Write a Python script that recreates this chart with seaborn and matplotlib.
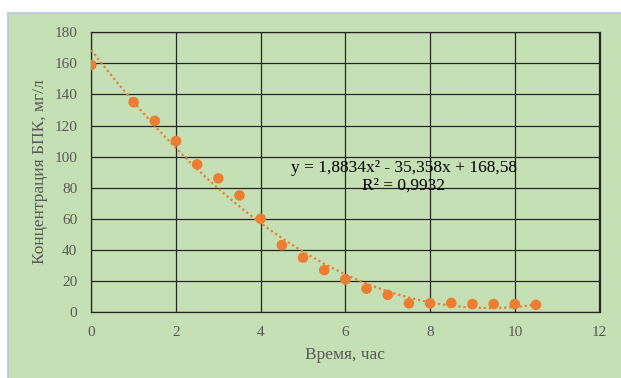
import numpy as np
import pandas as pd
import matplotlib
matplotlib.use("Agg")
import matplotlib.pyplot as plt
from matplotlib.patches import Rectangle
from matplotlib.lines import Line2D
import seaborn as sns

# Data
time_h = [0, 1, 1.5, 2, 2.5, 3, 3.5, 4, 4.5, 5, 5.5, 6, 6.5, 7, 7.5, 8, 8.5, 9, 9.5, 10, 10.5]
bpk = [159, 135, 123, 110, 95, 86, 75, 60, 43, 35, 27, 21, 15, 11, 5.6, 5.6, 5.8, 5.1, 5.1, 5.1, 4.6]
x_ticks = [0, 2, 4, 6, 8, 10, 12]
y_ticks = [0, 20, 40, 60, 80, 100, 120, 140, 160, 180]
eq_text = "y = 1,8834x² - 35,358x + 168,58"
r2_text = "R² = 0,9932"
x_label = "Время, час"
y_label = "Концентрация БПК, мг/л"

df = pd.DataFrame({"t": time_h, "c": bpk})

GREEN = "#C5E0B4"
ORANGE = "#ED7D31"
GRID = "#262626"
TXT = "#595959"

sns.set_theme(style="white")
plt.rcParams["font.family"] = ["Liberation Serif", "DejaVu Serif"]

W, H = 621, 378
fig = plt.figure(figsize=(W / 100, H / 100), dpi=100, facecolor="white")

# Green panel with light-blue edge on top/left
px0, py_top = 8, 13
fig.patches.append(Rectangle((px0 / W, 0), 1 - px0 / W, (H - py_top) / H,
                             transform=fig.transFigure, facecolor=GREEN,
                             edgecolor="none", zorder=-10))
fig.lines.append(Line2D([px0 / W, 1], [(H - py_top) / H] * 2, transform=fig.transFigure,
                        color="#B4C7E7", lw=1.2, zorder=-5))
fig.lines.append(Line2D([px0 / W] * 2, [0, (H - py_top) / H], transform=fig.transFigure,
                        color="#B4C7E7", lw=1.2, zorder=-5))

left, right = 91.3 / W, 599.5 / W
bottom, top = 1 - 312 / H, 1 - 32.3 / H
ax = fig.add_axes([left, bottom, right - left, top - bottom])
ax.set_facecolor("none")
ax.set_zorder(2)

sns.regplot(data=df, x="t", y="c", order=2, ci=None, scatter=False, ax=ax,
            line_kws=dict(color=ORANGE, lw=1.6, linestyle=(0, (1, 1.3)), zorder=3))
sns.scatterplot(data=df, x="t", y="c", ax=ax, color=ORANGE, s=58,
                edgecolor="none", linewidth=0, zorder=4)

ax.set_xlim(0, 12)
ax.set_ylim(0, 180)
ax.set_xticks(x_ticks)
ax.set_yticks(y_ticks)
ax.grid(True, color=GRID, lw=0.9, zorder=1)
ax.set_axisbelow(True)
for s in ax.spines.values():
    s.set_visible(True)
    s.set_color(GRID)
    s.set_linewidth(0.9)

ax.tick_params(axis="both", length=0, labelsize=11, labelcolor=TXT, pad=10)
ax.set_xlabel(x_label, fontsize=12.5, color=TXT, labelpad=6)
ax.set_ylabel(y_label, fontsize=12.5, color=TXT, labelpad=5)

ax.text(7.38, 92.5, eq_text, ha="center", va="center", fontsize=12.5, color="black", zorder=5)
ax.text(7.38, 81, r2_text, ha="center", va="center", fontsize=12.5, color="black", zorder=5)

fig.savefig("out.png", dpi=100, facecolor="white")
